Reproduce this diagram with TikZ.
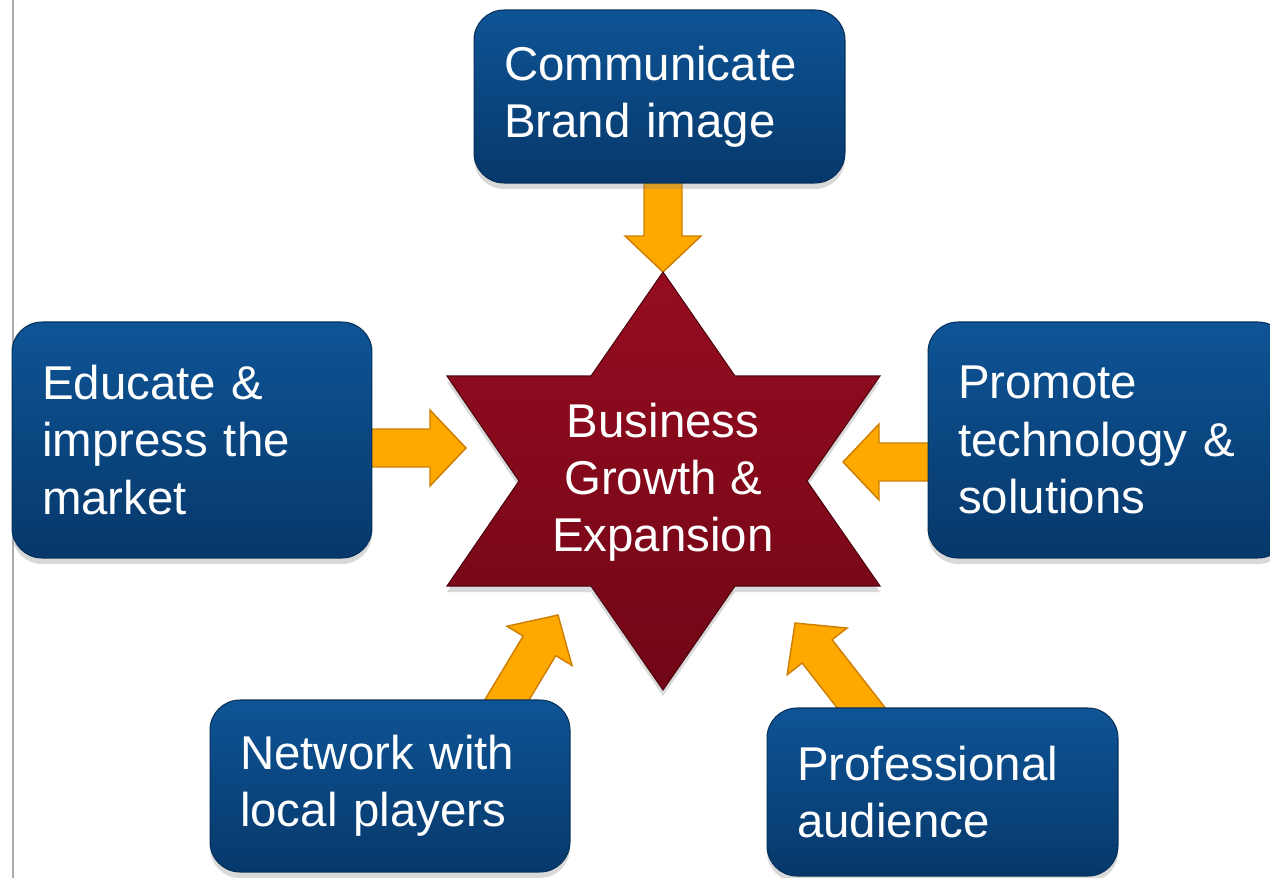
\documentclass[tikz,border=0pt]{standalone}
\usepackage{fontspec}
\setmainfont{Liberation Sans}
\usetikzlibrary{calc,shadows,backgrounds}

\definecolor{boxtop}{RGB}{14,84,150}
\definecolor{boxbot}{RGB}{6,56,106}
\definecolor{startop}{RGB}{150,12,32}
\definecolor{starbot}{RGB}{112,6,22}
\definecolor{arrowfill}{RGB}{255,168,0}
\definecolor{arrowedge}{RGB}{205,125,0}
\definecolor{rulegray}{RGB}{170,172,178}

\newcommand{\blockarrow}[2]{%
  \coordinate (hb) at ($(#2)!0.72cm!(#1)$);
  \draw[arrowbody] ($(#1)!0.38cm!90:(#2)$) -- ($(hb)!0.38cm!90:(#2)$)
    -- ($(hb)!0.76cm!90:(#2)$) -- (#2) -- ($(hb)!0.76cm!-90:(#2)$)
    -- ($(hb)!0.38cm!-90:(#2)$) -- ($(#1)!0.38cm!-90:(#2)$) -- cycle;}

\begin{document}
\begin{tikzpicture}
	 [x=0.02cm,y=-0.02cm,
	  every node/.style={text=white,font=\fontsize{27pt}{32.5pt}\selectfont},
	  goal/.style={rounded corners=0.6cm,top color=boxtop,bottom color=boxbot,
	    draw=boxbot!85!black,line width=0.6pt,inner xsep=0.6cm,align=left,
	    drop shadow={shadow xshift=0pt,shadow yshift=-0.12cm,opacity=0.3}},
	  starbody/.style={top color=startop,bottom color=starbot,draw=starbot!70!black,
	    line width=0.6pt,drop shadow={shadow xshift=0pt,shadow yshift=-0.12cm,opacity=0.3}},
	  arrowbody/.style={fill=arrowfill,draw=arrowedge,line width=0.8pt,line join=miter}]

	\clip (0,0) rectangle (1270,878);
	\draw[rulegray,line width=0.8pt] (13,0) -- (13,878);

	\path[starbody] (663,272) coordinate (sN) -- (735,376) -- (880,376) -- (807,481)
	  -- (880,586) -- (735,586) -- (663,690) -- (591,586) -- (447,586) -- (519,481)
	  -- (447,376) -- (591,376) -- cycle;
	\node[align=center] (hub) at (663,482) {Business\\Growth \&\\Expansion};

	  \node[goal,minimum width=7.42cm,minimum height=3.46cm,text width=6.22cm] (brand) at (659.5,96.5) {Communicate\\Brand image};
	  \node[goal,minimum width=7.2cm,minimum height=4.72cm,text width=6cm] (educate) at (192,440) {Educate \&\\impress the\\market};
	  \node[goal,minimum width=7.2cm,minimum height=4.72cm,text width=6cm] (promote) at (1108,440) {Promote\\technology \&\\solutions};
	  \node[goal,minimum width=7.2cm,minimum height=3.44cm,text width=6cm] (network) at (390,786) {Network with\\local players};
	  \node[goal,minimum width=7.02cm,minimum height=3.36cm,text width=5.82cm] (audience) at (942.5,792) {Professional\\audience};

	  \coordinate (tL) at (466,448);
	  \coordinate (tR) at (843,462);
	  \coordinate (tBL) at (558,615);
	  \coordinate (tBR) at (795,623);
	  \coordinate (fT) at (brand -| sN);
	  \coordinate (fL) at (educate |- tL);
	  \coordinate (fR) at (promote |- tR);
	  \coordinate (fBL) at (490,728);
	  \coordinate (fBR) at (880,732);

	\begin{scope}[on background layer]
	\foreach \from/\to in {fT/sN,fL/tL,fR/tR,fBL/tBL,fBR/tBR}
	  {\blockarrow{\from}{\to}}
	\end{scope}

\end{tikzpicture}
\end{document}
